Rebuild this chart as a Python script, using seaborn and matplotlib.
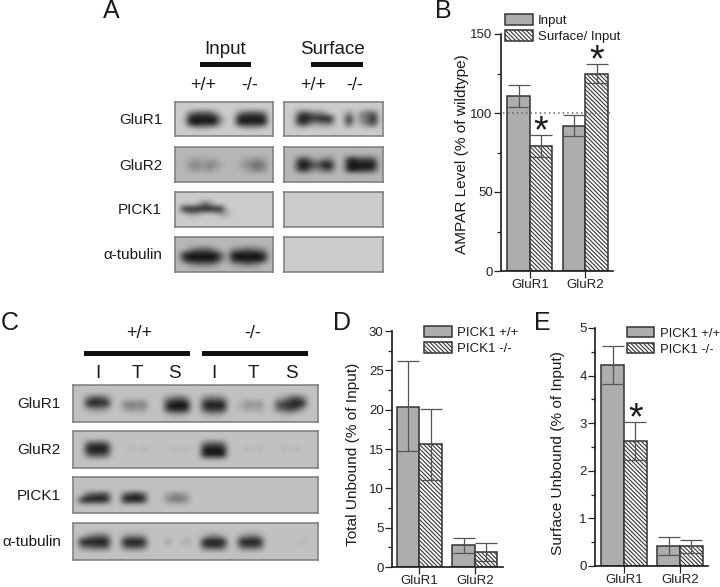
import numpy as np
import pandas as pd
import seaborn as sns
import matplotlib.pyplot as plt
from matplotlib.colors import LinearSegmentedColormap
from matplotlib.patches import Rectangle

W, H = 720, 587
targets = ['GluR1', 'GluR2']

# panel B
b_series = ['Input', 'Surface/ Input']
b_values = [[111, 92], [79, 125]]
b_low = [[104, 85.5], [72, 119]]
b_high = [[117.5, 99], [86, 131]]

# panel D
d_series = ['PICK1 +/+', 'PICK1 -/-']
d_values = [[20.4, 2.8], [15.6, 1.9]]
d_low = [[14.7, 1.8], [11, 0.7]]
d_high = [[26.2, 3.7], [20.1, 3.0]]

# panel E
e_series = ['PICK1 +/+', 'PICK1 -/-']
e_values = [[4.23, 0.42], [2.63, 0.41]]
e_low = [[3.82, 0.24], [2.22, 0.27]]
e_high = [[4.63, 0.6], [3.03, 0.55]]

# blots: band darkness 0-9, read by eye, one string per row of the membrane
blank_a = ['0' * 16] * 7
a_input = {
    'GluR1': ['0' * 16, '0' * 16, '0046664000466650', '0099999300999990', '0089888200888880', '0001110000011100', '0' * 16],
    'GluR2': ['1' * 16, '1' * 16, '1122222111122321', '1134243211234541', '1123232111123431', '1' * 16, '1' * 16],
    'PICK1': ['0' * 16, '0' * 16, '0000440000000000', '0999999900000000', '0022000220000000', '0' * 16, '0' * 16],
    'tubulin': ['1' * 16, '1' * 16, '1135553113455431', '1899999619999981', '1799999518999981', '1134443112344311', '1' * 16],
}
a_surface = {
    'GluR1': ['0' * 16, '0' * 16, '0057443000403560', '0099889900904490', '0077334400702570', '0' * 16, '0' * 16],
    'GluR2': ['1' * 16, '1' * 16, '1167324411886761', '1199769911999991', '1178436611998871', '1' * 16, '1' * 16],
    'PICK1': blank_a,
    'tubulin': blank_a,
}
c_blots = {
    'GluR1': ['0' * 40, '0' * 40,
              '00 46640 0 00000 00 34530 0 34430 0 00000 0 125640 0',
              '00 99890 0 34340 00 89990 0 89890 0 13230 0 678990 0',
              '00 23320 0 23230 00 89990 0 78880 0 12120 0 567620 0',
              '00 00000 0 00000 00 12210 0 12210 0 00000 0 011000 0', '0' * 40],
    'GluR2': ['0' * 40, '0' * 40,
              '00 67760 0 00000 00 00000 0 56650 0 00000 0 000000 0',
              '00 99990 0 01010 00 01010 0 99990 0 01010 0 010100 0',
              '00 56650 0 00000 00 00000 0 99990 0 00000 0 000000 0', '0' * 40, '0' * 40],
    'PICK1': ['0' * 40, '0' * 40, '0' * 40,
              '00 66770 0 67860 00 23320 0 00000 0 00000 0 000000 0',
              '09 99980 0 99980 00 34430 0 00000 0 00000 0 000000 0', '0' * 40, '0' * 40],
    'tubulin': ['0' * 40, '0' * 40,
                '00 34540 0 23320 00 00000 0 13310 0 23420 0 000000 0',
                '09 99990 0 99990 00 20020 0 99990 0 99990 0 000010 0',
                '04 56660 0 56650 00 00000 0 67760 0 56650 0 000000 0', '0' * 40, '0' * 40],
}

# layout, in pixels of the final picture
a_cols = [(175, 273), (284, 383)]
a_rows = [(102, 136), (147, 182), (192, 227), (237, 272)]
c_col = (73, 318)
c_rows = [(385, 422), (431, 468), (477, 513), (523, 560)]
blot_names = ['GluR1', 'GluR2', 'PICK1', 'tubulin']
blot_labels = ['GluR1', 'GluR2', 'PICK1', 'α-tubulin']

sns.set_theme(style='ticks')
plt.rcParams['font.family'] = ['Liberation Sans', 'DejaVu Sans']
plt.rcParams['hatch.linewidth'] = 0.8
plt.rcParams['axes.edgecolor'] = '#222222'
plt.rcParams['xtick.color'] = '#222222'
plt.rcParams['ytick.color'] = '#222222'
plt.rcParams['text.color'] = '#1a1a1a'
plt.rcParams['axes.labelcolor'] = '#1a1a1a'

fig = plt.figure(figsize=(W / 100, H / 100), dpi=100, facecolor='white')
blot_cmap = LinearSegmentedColormap.from_list('blot', ['#cbcbcb', '#141414'])


def px_axes(left, top, right, bottom):
    return fig.add_axes([left / W, 1 - bottom / H, (right - left) / W, (bottom - top) / H])


def px_text(x, y, s, size, ha='center', **kw):
    fig.text(x / W, 1 - y / H, s, fontsize=size, ha=ha, va='center', **kw)


def px_bar(left, right, top, bottom):
    fig.add_artist(Rectangle((left / W, 1 - bottom / H), (right - left) / W, (bottom - top) / H,
                             transform=fig.transFigure, color='#111111', lw=0))


def draw_blot(rows, box, low=0):
    ax = px_axes(*box)
    grid = np.array([[int(c) for c in r.replace(' ', '')] for r in rows])
    ax.imshow(grid, cmap=blot_cmap, vmin=low, vmax=9, aspect='auto', interpolation='bicubic')
    ax.set_xticks([])
    ax.set_yticks([])
    ax.grid(False)
    for s in ax.spines.values():
        s.set_color('#7a7a7a')
        s.set_linewidth(1.1)


def draw_bars(box, series, values, low, high, ymax, major, minor, xlim, ylabel, label_xy,
              legend_xy, legend_size, stars):
    ax = px_axes(*box)
    df = pd.DataFrame({
        'target': targets * 2,
        'series': [series[0]] * 2 + [series[1]] * 2,
        'value': values[0] + values[1],
    })
    sns.barplot(data=df, x='target', y='value', hue='series', ax=ax, width=0.81, gap=0,
                errorbar=None, legend=False, palette=['#adadad', 'white'],
                edgecolor='#333333', linewidth=1.1, saturation=1)
    bars = list(ax.containers)
    for bar in bars[1]:
        bar.set_hatch('\\\\\\\\\\\\\\\\')
    for i, cont in enumerate(bars):
        xs = [p.get_x() + p.get_width() / 2 for p in cont]
        v = np.array(values[i])
        ax.errorbar(xs, v, yerr=[v - np.array(low[i]), np.array(high[i]) - v], fmt='none',
                    ecolor='#555555', elinewidth=0.9, capsize=8, capthick=0.9, zorder=5)
    for i, j in stars:
        p = bars[i][j]
        ax.annotate('*', (p.get_x() + p.get_width() / 2, high[i][j]), xytext=(0, -11),
                    textcoords='offset points', ha='center', va='bottom', fontsize=27)
    ax.set_xlim(*xlim)
    ax.set_ylim(0, ymax)
    ax.set_yticks(major)
    ax.set_yticks(minor, minor=True)
    ax.tick_params(axis='both', which='major', length=5, width=0.9, labelsize=9.5, pad=1)
    ax.tick_params(axis='y', which='minor', length=3, width=0.9)
    ax.set_xlabel('')
    ax.set_ylabel(ylabel, fontsize=11.1, va='center')
    ax.yaxis.set_label_coords(*label_xy)
    sns.despine(ax=ax)
    ax.legend(bars, series, loc='upper left', bbox_to_anchor=legend_xy,
              bbox_transform=fig.transFigure, frameon=False, fontsize=legend_size, borderpad=0,
              borderaxespad=0, handlelength=2.1, handleheight=0.85, handletextpad=0.4,
              labelspacing=0.25)
    return ax


# panel A
px_text(111, 11, 'A', 18)
px_text(225, 50, 'Input', 13.5)
px_text(332, 50, 'Surface', 13.5)
px_bar(200, 251, 62, 67)
px_bar(311, 363, 62, 67)
for x, s in zip([203, 250, 313, 355], ['+/+', '-/-', '+/+', '-/-']):
    px_text(x, 85, s, 13)
for name, label, rows in zip(blot_names, blot_labels, a_rows):
    draw_blot(a_input[name], (a_cols[0][0], rows[0], a_cols[0][1], rows[1]))
    draw_blot(a_surface[name], (a_cols[1][0], rows[0], a_cols[1][1], rows[1]))
    px_text(162, (rows[0] + rows[1]) / 2 + 1, label, 11, ha='right')

# panel C
px_text(10, 323, 'C', 18)
px_text(139, 333, '+/+', 13)
px_text(253, 333, '-/-', 13)
px_bar(84, 190, 351, 356)
px_bar(202, 308, 351, 356)
for x, s in zip([98, 137, 174, 214, 253, 291], ['I', 'T', 'S', 'I', 'T', 'S']):
    px_text(x, 374, s, 13.5)
for name, label, rows in zip(blot_names, blot_labels, c_rows):
    draw_blot(c_blots[name], (c_col[0], rows[0], c_col[1], rows[1]), low=-0.5)
    px_text(61, (rows[0] + rows[1]) / 2 + 1, label, 11, ha='right')

# panels B, D, E
px_text(443, 11, 'B', 18)
b_ax = draw_bars((501, 34, 613, 271), b_series, b_values, b_low, b_high, 150, [0, 50, 100, 150],
                 [25, 75, 125], (-0.52, 1.495), 'AMPAR Level (% of wildtype)', (-0.348, 0.494),
                 (505 / W, 1 - 14 / H), 9.5, [(1, 0), (1, 1)])
b_ax.plot([-0.48, 1.495], [100, 100], color='#666666', lw=1.1, ls=(0, (1, 2)), zorder=6)

px_text(342, 323, 'D', 18)
draw_bars((392, 331, 503, 567), d_series, d_values, d_low, d_high, 30, [0, 5, 10, 15, 20, 25, 30],
          np.arange(2.5, 30, 5), (-0.495, 1.505), 'Total Unbound (% of Input)', (-0.354, 0.479),
          (424 / W, 1 - 326 / H), 9.5, [])

px_text(542, 323, 'E', 18)
draw_bars((595, 328, 708, 566), e_series, e_values, e_low, e_high, 5, [0, 1, 2, 3, 4, 5],
          np.arange(0.5, 5, 1), (-0.52, 1.5), 'Surface Unbound (% of Input)', (-0.327, 0.475),
          (627 / W, 1 - 327 / H), 9.4, [(1, 0)])

fig.savefig('out.png', dpi=100, facecolor='white')
